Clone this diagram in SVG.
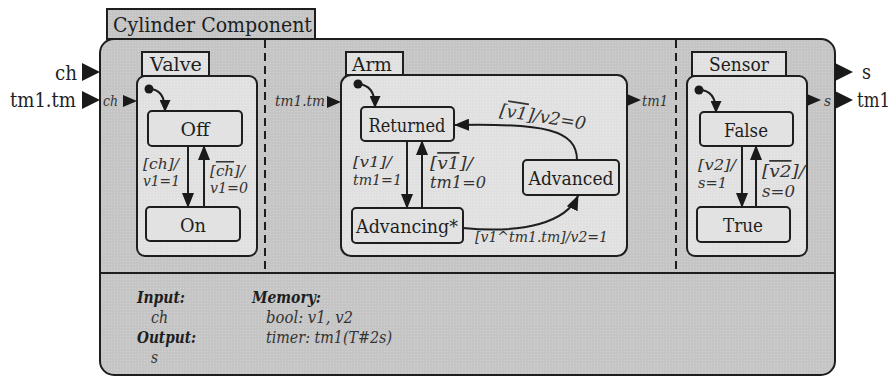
<svg xmlns="http://www.w3.org/2000/svg" width="896" height="377" viewBox="0 0 896 377">
  <style>
    .frame { stroke: #1e1e1e; stroke-width: 2; }
    .outer { fill: url(#dotsDark); }
    .panel { fill: url(#dotsLight); }
    .tab { fill: url(#dotsLight); }
    .state { fill: #e2e2e2; }
    .edge { fill: none; stroke: #1e1e1e; stroke-width: 2; }
    .sep { fill: none; stroke: #1e1e1e; stroke-width: 2; stroke-dasharray: 8 5; }
    .port { fill: #1a1a1a; }
    text { font-family: "DejaVu Serif", "Liberation Serif", serif; fill: #1e1e1e; }
    .title { font-size: 21px; }
    .ext { font-size: 20px; }
    .name { font-size: 19px; }
    .sname { font-size: 18.5px; text-anchor: middle; }
    .pl { font-style: italic; font-size: 15px; fill: #333; }
    .l16 { font-style: italic; font-size: 15.5px; fill: #333; }
    .l17 { font-style: italic; font-size: 15.5px; fill: #333; }
    .l18 { font-style: italic; font-size: 17.5px; fill: #333; }
    .decl { font-style: italic; font-size: 16px; fill: #333; }
    .decl-h { font-style: italic; font-weight: bold; font-size: 16px; fill: #1e1e1e; }
    .ov { text-decoration: overline; }
  </style>
  <defs>
    <pattern id="dotsDark" width="3" height="3" patternUnits="userSpaceOnUse">
      <rect width="3" height="3" fill="#c5c5c5"/>
      <rect width="1" height="1" fill="#d3d3d3"/>
    </pattern>
    <pattern id="dotsLight" width="3" height="3" patternUnits="userSpaceOnUse">
      <rect width="3" height="3" fill="#e0e0e0"/>
      <rect width="1" height="1" fill="#ebebeb"/>
    </pattern>
    <marker id="arrow" markerUnits="userSpaceOnUse" markerWidth="15" markerHeight="12" viewBox="0 0 15 12" refX="14" refY="6" orient="auto">
      <path d="M0,0 L15,6 L0,12 Z" fill="#1a1a1a"/>
    </marker>
    <marker id="arrowSm" markerUnits="userSpaceOnUse" markerWidth="12" markerHeight="11" viewBox="0 0 12 11" refX="11" refY="5.5" orient="auto">
      <path d="M0,0 L12,5.5 L0,11 Z" fill="#1a1a1a"/>
    </marker>
  </defs>

  <!-- component frame -->
  <g id="component">
    <rect class="frame" x="107" y="9" width="208" height="30" fill="url(#dotsDark)"/>
    <text class="title" x="113" y="32" textLength="199" lengthAdjust="spacingAndGlyphs">Cylinder Component</text>
    <rect class="frame outer" x="100" y="39" width="735" height="336" rx="14"/>
    <line class="frame" x1="100" y1="273" x2="835" y2="273"/>
    <line class="sep" x1="265" y1="40" x2="265" y2="273"/>
    <line class="sep" x1="676" y1="40" x2="676" y2="273"/>
  </g>

  <!-- external ports -->
  <g id="ports-external">
    <text class="ext" x="55" y="80" textLength="22" lengthAdjust="spacingAndGlyphs">ch</text>
    <polygon class="port" points="82,63 100,72 82,81"/>
    <text class="ext" x="10" y="107" textLength="66" lengthAdjust="spacingAndGlyphs">tm1.tm</text>
    <polygon class="port" points="82,91 100,100 82,109"/>
    <polygon class="port" points="835,63 853,72 835,81"/>
    <text class="ext" x="862" y="79" textLength="9" lengthAdjust="spacingAndGlyphs">s</text>
    <polygon class="port" points="835,91 853,100 835,109"/>
    <text class="ext" x="857" y="107" textLength="33" lengthAdjust="spacingAndGlyphs">tm1</text>
  </g>

  <!-- Valve -->
  <g id="valve">
    <rect class="frame tab" x="142" y="52" width="67" height="24"/>
    <text class="name" x="150" y="71" textLength="52" lengthAdjust="spacingAndGlyphs">Valve</text>
    <rect class="frame panel" x="137" y="76" width="120" height="180" rx="8"/>
    <text class="pl" x="103" y="106" textLength="15" lengthAdjust="spacingAndGlyphs">ch</text>
    <polygon class="port" points="123,95 137,101 123,107"/>
  </g>
  <g id="valve-off">
    <rect class="frame state" x="148" y="111" width="94" height="35" rx="4"/>
    <text class="sname" x="195" y="136" textLength="29" lengthAdjust="spacingAndGlyphs">Off</text>
  </g>
  <g id="valve-on">
    <rect class="frame state" x="146" y="207" width="94" height="34" rx="4"/>
    <text class="sname" x="193" y="232" textLength="26" lengthAdjust="spacingAndGlyphs">On</text>
  </g>

  <!-- Arm -->
  <g id="arm">
    <rect class="frame tab" x="346" y="52" width="57" height="23"/>
    <text class="name" x="352" y="71" textLength="40" lengthAdjust="spacingAndGlyphs">Arm</text>
    <rect class="frame panel" x="341" y="75" width="286" height="181" rx="10"/>
    <text class="pl" x="275" y="106" font-size="16" textLength="50" lengthAdjust="spacingAndGlyphs">tm1.tm</text>
    <polygon class="port" points="327,96 341,102 327,108"/>
    <polygon class="port" points="627,94 641,100 627,106"/>
    <text class="pl" x="642" y="106" textLength="26" lengthAdjust="spacingAndGlyphs">tm1</text>
  </g>
  <g id="arm-returned">
    <rect class="frame state" x="361" y="107" width="93" height="34" rx="4"/>
    <text class="sname" x="407" y="132" textLength="77" lengthAdjust="spacingAndGlyphs">Returned</text>
  </g>
  <g id="arm-advanced">
    <rect class="frame state" x="523" y="160" width="96" height="35" rx="4"/>
    <text class="sname" x="571" y="185" textLength="85" lengthAdjust="spacingAndGlyphs">Advanced</text>
  </g>
  <g id="arm-advancing">
    <rect class="frame state" x="352" y="208" width="111" height="35" rx="4"/>
    <text class="sname" x="407" y="233" textLength="102" lengthAdjust="spacingAndGlyphs">Advancing*</text>
  </g>

  <!-- Sensor -->
  <g id="sensor">
    <rect class="frame tab" x="692" y="52" width="94" height="24"/>
    <text class="name" x="709" y="71" textLength="60" lengthAdjust="spacingAndGlyphs">Sensor</text>
    <rect class="frame panel" x="687" y="76" width="120" height="180" rx="8"/>
    <polygon class="port" points="807,94 821,100 807,106"/>
    <text class="pl" x="824" y="106" textLength="7" lengthAdjust="spacingAndGlyphs">s</text>
  </g>
  <g id="sensor-false">
    <rect class="frame state" x="700" y="112" width="93" height="34" rx="4"/>
    <text class="sname" x="746" y="137" textLength="44" lengthAdjust="spacingAndGlyphs">False</text>
  </g>
  <g id="sensor-true">
    <rect class="frame state" x="697" y="207" width="93" height="35" rx="4"/>
    <text class="sname" x="743" y="232" textLength="40" lengthAdjust="spacingAndGlyphs">True</text>
  </g>

  <!-- transitions -->
  <g id="connectors">
    <!-- initial pseudo-states -->
    <circle cx="149" cy="89" r="4.5" fill="#1a1a1a"/>
    <path class="edge" d="M149,89 Q165,89 165,111" marker-end="url(#arrowSm)"/>
    <circle cx="358" cy="84" r="4.5" fill="#1a1a1a"/>
    <path class="edge" d="M358,84 Q375,85 375,107" marker-end="url(#arrowSm)"/>
    <circle cx="699" cy="90" r="4.5" fill="#1a1a1a"/>
    <path class="edge" d="M699,90 Q716,90 716,112" marker-end="url(#arrowSm)"/>

    <!-- Valve -->
    <line class="edge" x1="188" y1="146" x2="188" y2="207" marker-end="url(#arrow)"/>
    <line class="edge" x1="204" y1="207" x2="204" y2="146" marker-end="url(#arrow)"/>

    <!-- Arm -->
    <line class="edge" x1="407" y1="141" x2="407" y2="208" marker-end="url(#arrow)"/>
    <line class="edge" x1="422" y1="208" x2="422" y2="141" marker-end="url(#arrow)"/>
    <path class="edge" d="M577,160 C577,130 545,123 455,125" marker-end="url(#arrow)"/>
    <path class="edge" d="M463,228 C525,234 566,222 578,196" marker-end="url(#arrow)"/>

    <!-- Sensor -->
    <line class="edge" x1="742" y1="146" x2="742" y2="207" marker-end="url(#arrow)"/>
    <line class="edge" x1="756" y1="207" x2="756" y2="146" marker-end="url(#arrow)"/>
  </g>

  <!-- transition labels -->
  <g id="labels">
    <text class="l16" x="143" y="169" textLength="36" lengthAdjust="spacingAndGlyphs">[ch]/</text>
    <text class="l16" x="143" y="186" textLength="37" lengthAdjust="spacingAndGlyphs">v1=1</text>
    <text class="l16" x="210" y="176" textLength="35" lengthAdjust="spacingAndGlyphs">[<tspan class="ov">ch</tspan>]/</text>
    <text class="l16" x="210" y="193" textLength="38" lengthAdjust="spacingAndGlyphs">v1=0</text>

    <text class="l17" x="353" y="167" textLength="39" lengthAdjust="spacingAndGlyphs">[v1]/</text>
    <text class="l17" x="353" y="185" textLength="49" lengthAdjust="spacingAndGlyphs">tm1=1</text>
    <text class="l18" x="430" y="169" textLength="43" lengthAdjust="spacingAndGlyphs">[<tspan class="ov">v1</tspan>]/</text>
    <text class="l18" x="430" y="188" textLength="56" lengthAdjust="spacingAndGlyphs">tm1=0</text>
    <text class="l18" x="499" y="116" transform="rotate(9 499 116)" textLength="87" lengthAdjust="spacingAndGlyphs">[<tspan class="ov">v1</tspan>]/v2=0</text>
    <text class="l16" x="475" y="242" textLength="133" lengthAdjust="spacingAndGlyphs">[v1^tm1.tm]/v2=1</text>

    <text class="l17" x="698" y="170" textLength="38" lengthAdjust="spacingAndGlyphs">[v2]/</text>
    <text class="l17" x="698" y="188" textLength="29" lengthAdjust="spacingAndGlyphs">s=1</text>
    <text class="l18" x="762" y="177" textLength="43" lengthAdjust="spacingAndGlyphs">[<tspan class="ov">v2</tspan>]/</text>
    <text class="l18" x="762" y="197" textLength="33" lengthAdjust="spacingAndGlyphs">s=0</text>
  </g>

  <!-- declarations -->
  <g id="declarations">
    <text class="decl-h" x="137" y="303" textLength="48" lengthAdjust="spacingAndGlyphs">Input:</text>
    <text class="decl" x="151" y="323" textLength="17" lengthAdjust="spacingAndGlyphs">ch</text>
    <text class="decl-h" x="137" y="343" textLength="59" lengthAdjust="spacingAndGlyphs">Output:</text>
    <text class="decl" x="151" y="363" textLength="7" lengthAdjust="spacingAndGlyphs">s</text>
    <text class="decl-h" x="252" y="303" textLength="69" lengthAdjust="spacingAndGlyphs">Memory:</text>
    <text class="decl" x="266" y="323" textLength="87" lengthAdjust="spacingAndGlyphs">bool: v1, v2</text>
    <text class="decl" x="266" y="343" textLength="126" lengthAdjust="spacingAndGlyphs">timer: tm1(T#2s)</text>
  </g>
</svg>
